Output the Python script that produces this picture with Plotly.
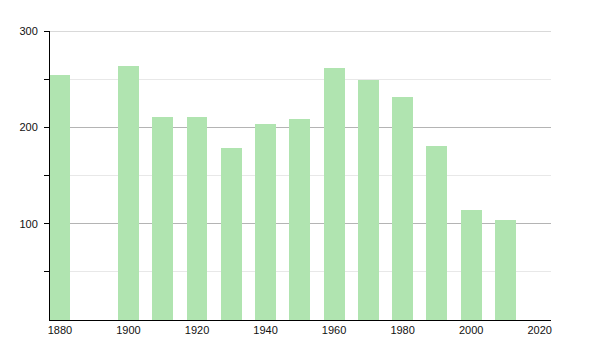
import plotly.graph_objects as go

years = [1880, 1900, 1910, 1920, 1930, 1940, 1950, 1960, 1970, 1980, 1990, 2000, 2010]
population = [254, 264, 211, 211, 179, 203, 209, 262, 249, 232, 181, 114, 104]
x_ticks = [1880, 1900, 1920, 1940, 1960, 1980, 2000, 2020]
y_ticks = [100, 200, 300]

fig = go.Figure()
fig.add_trace(go.Bar(
    x=years, y=population, width=6.1,
    marker=dict(color="rgb(176,228,176)", line=dict(width=0)),
))

fig.update_layout(
    width=600, height=350,
    margin=dict(l=50, r=49, t=31, b=30),
    plot_bgcolor="white", paper_bgcolor="white",
    showlegend=False,
    font=dict(family="Liberation Sans, Arial, sans-serif", size=11, color="#111"),
    xaxis=dict(
        range=[1877.1, 2023.3], tickvals=x_ticks, ticktext=[str(v) for v in x_ticks],
        showgrid=False, zeroline=False, showline=True, linecolor="black", linewidth=1,
        ticks="", ticklen=0,
    ),
    yaxis=dict(
        range=[0, 300], tickvals=y_ticks, ticktext=[str(v) for v in y_ticks],
        showgrid=True, gridcolor="#b4b4b4", gridwidth=1,
        zeroline=False, showline=True, linecolor="black", linewidth=1,
        ticks="outside", ticklen=5, tickcolor="black", ticklabelstandoff=4,
        minor=dict(tickvals=[50, 150, 250], showgrid=True, gridcolor="#e8e8e8",
                   ticks="outside", ticklen=5, tickcolor="black"),
    ),
    bargap=0,
)

# top gridline (plotly omits the gridline at the range edge)
fig.add_shape(type="line", xref="paper", x0=0, x1=1, yref="y",
              y0=y_ticks[-1], y1=y_ticks[-1],
              line=dict(color="#b4b4b4", width=1), layer="below")

fig.write_html("out.html")
